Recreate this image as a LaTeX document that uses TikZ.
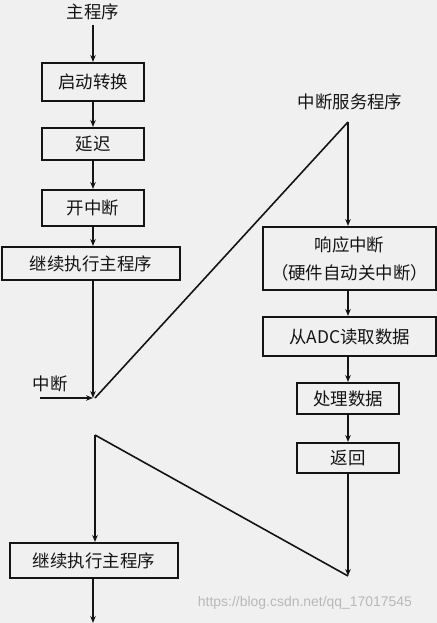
\documentclass[tikz,border=0pt]{standalone}
\usepackage{fontspec}
\newfontfamily\cjk{Noto Sans CJK SC}
\setsansfont{Liberation Sans}
\usetikzlibrary{arrows.meta}
\definecolor{bg}{RGB}{240,240,240}
\definecolor{ink}{RGB}{20,20,20}
\begin{document}
\begin{tikzpicture}[x=1bp,y=-1bp,
  txt/.style={font=\cjk\fontsize{17.5}{28}\selectfont, text=ink, inner sep=0pt},
  box/.style={txt, draw=ink, line width=2bp, minimum width=#1, align=center},
  conn/.style={draw=ink, line width=1.6bp},
  arr/.style={conn, -{Stealth[length=7bp,width=5.5bp]}},
  wm/.style={font=\sffamily\fontsize{14}{16}\selectfont, text=black!28, inner sep=0pt}]
\fill[bg] (0,0) rectangle (437,623);
\useasboundingbox (0,0) rectangle (437,623);

% main program column
\node[txt] (main) at (93,12) {主程序};
\node[box=102bp, minimum height=38bp] (b1) at (93,82) {启动转换};
\node[box=102bp, minimum height=32bp] (b2) at (93,144) {延迟};
\node[box=102bp, minimum height=36bp] (b3) at (93,208) {开中断};
\node[box=178bp, minimum height=33bp] (b4) at (91,263.5) {继续执行主程序};
\coordinate (j1) at (93,398);
\node[txt] (intr) at (50,384) {中断};
\coordinate (cin) at (40,398);

% interrupt service routine
\node[txt] (isr) at (350,102) {中断服务程序};
\coordinate (apex) at (348,122);
\node[box=173bp, minimum height=63bp] (r1) at (349.5,258.5) {响应中断\\（硬件自动关中断）};
\node[box=173bp, minimum height=39bp] (r2) at (349.5,336.5) {从ADC读取数据};
\node[box=102bp, minimum height=31bp] (r3) at (348,398.5) {处理数据};
\node[box=102bp, minimum height=30bp] (r4) at (348,458) {返回};
\coordinate (j2) at (348,576);
\coordinate (j3) at (95,435);

% resume
\node[box=168bp, minimum height=35bp] (b5) at (94,560.5) {继续执行主程序};
\coordinate (end) at (93,623);

% connectors
\draw[arr] (main.south |- 0,25) -- (b1.north -| main.south);
\draw[arr] (b1) -- (b2);
\draw[arr] (b2) -- (b3);
\draw[arr] (b3) -- (b3 |- b4.north);
\draw[arr] (b3 |- b4.south) -- (j1);
\draw[arr] (cin) -- (j1);
\draw[conn] ([xshift=2bp]j1) -- (apex);
\draw[arr] (apex) -- (apex |- r1.north);
\draw[arr] (r1.south -| apex) -- (r2.north -| apex);
\draw[arr] (r2.south -| apex) -- (r3.north -| apex);
\draw[arr] (r3) -- (r4);
\draw[arr] (r4) -- (j2);
\draw[conn] (j2) -- (j3);
\draw[arr] (j3) -- (j3 |- b5.north);
\draw[arr] (b5.south -| end) -- (end);

\node[wm] (wmark) at (305,603) {https://blog.csdn.net/qq\_17017545};
\end{tikzpicture}
\end{document}
